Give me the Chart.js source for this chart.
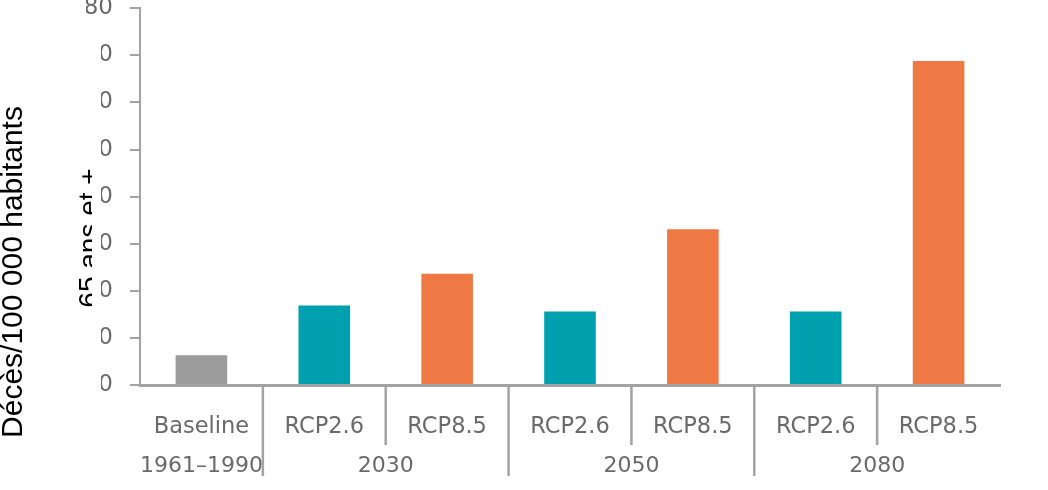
<!DOCTYPE html>
<html>
<head>
<meta charset="utf-8">
<script src="https://cdn.jsdelivr.net/npm/chart.js@4.4.1/dist/chart.umd.min.js"></script>
<style>
html,body{margin:0;padding:0;background:#fff;}
#wrap{width:1048px;height:490px;position:relative;}
</style>
</head>
<body>
<div id="wrap"><canvas id="c"></canvas></div>
<script>
// ---- data ----
const categories = ["Baseline", "RCP2.6", "RCP8.5", "RCP2.6", "RCP8.5", "RCP2.6", "RCP8.5"];
const periods = ["1961–1990", "2030", "2050", "2080"];
const periodSpans = [1, 2, 2, 2];
const deaths = [6.3, 16.9, 23.6, 15.6, 33.1, 15.6, 68.8];
const yTickValues = [0, 10, 20, 30, 40, 50, 60, 70, 80];
const yTitle = "Décès/100 000 habitants";
const ySubTitle = "65 ans et +";

// ---- styles ----
const scenarioColors = { "Baseline": "#9b9b9b", "RCP2.6": "#00a0ae", "RCP8.5": "#ee7944" };
const axisGrey = "#a3a3a3";
const labelGrey = "#6a6a6a";
const labelFont = "'DejaVu Sans', sans-serif";

const overlay = {
  id: "overlay",
  afterDraw(chart) {
    const ctx = chart.ctx;
    const xs = chart.scales.x;
    const bottom = chart.chartArea.bottom;
    const boundary = i => (xs.getPixelForValue(i) + xs.getPixelForValue(i + 1)) / 2;
    ctx.save();
    ctx.strokeStyle = axisGrey;
    ctx.lineWidth = 2.5;
    const vline = (x, len) => { ctx.beginPath(); ctx.moveTo(x, bottom); ctx.lineTo(x, bottom + len); ctx.stroke(); };
    ctx.fillStyle = labelGrey;
    ctx.font = "22px " + labelFont;
    ctx.textAlign = "center";
    ctx.textBaseline = "middle";
    let idx = 0;
    periodSpans.forEach((span, g) => {
      for (let k = 1; k < span; k++) vline(boundary(idx + k - 1), 60);
      const cx = (xs.getPixelForValue(idx) + xs.getPixelForValue(idx + span - 1)) / 2;
      ctx.fillText(periods[g], cx, bottom + 81);
      idx += span;
      if (idx < categories.length) vline(boundary(idx - 1), 91);
    });
    ctx.restore();

    // white cover over the y tick labels, with the clipped sub-title
    ctx.save();
    ctx.fillStyle = "#ffffff";
    ctx.fillRect(30, 24, 71, 374);
    ctx.beginPath();
    ctx.rect(30, 24, 62, 374);
    ctx.clip();
    ctx.fillStyle = "#000000";
    ctx.font = "28px 'Liberation Sans', Arial, sans-serif";
    ctx.textAlign = "center";
    ctx.textBaseline = "alphabetic";
    ctx.translate(98, 238);
    ctx.rotate(-Math.PI / 2);
    ctx.fillText(ySubTitle, 0, 0);
    ctx.restore();

    // main y title
    ctx.save();
    ctx.fillStyle = "#000000";
    ctx.font = "30px 'Liberation Sans', Arial, sans-serif";
    ctx.textAlign = "center";
    ctx.textBaseline = "alphabetic";
    ctx.translate(22, 272);
    ctx.rotate(-Math.PI / 2);
    ctx.fillText(yTitle, 0, 0);
    ctx.restore();
  }
};

new Chart(document.getElementById("c"), {
  type: "bar",
  data: {
    labels: categories,
    datasets: [{
      data: deaths,
      backgroundColor: categories.map(c => scenarioColors[c]),
      borderWidth: 0,
      barPercentage: 0.42,
      categoryPercentage: 1.0
    }]
  },
  options: {
    responsive: true,
    maintainAspectRatio: false,
    animation: false,
    devicePixelRatio: 1,
    layout: { padding: { left: 86, right: 48, top: 8.3, bottom: 0 } },
    plugins: { legend: { display: false }, tooltip: { enabled: false } },
    scales: {
      x: {
        offset: true,
        afterFit: s => { s.height = 105; },
        grid: { display: true, drawOnChartArea: false, drawTicks: false, color: "transparent" },
        border: { display: true, color: axisGrey, width: 3 },
        ticks: { color: labelGrey, padding: 29, font: { family: labelFont, size: 22.5, lineHeight: 1.2 }, maxRotation: 0, autoSkip: false }
      },
      y: {
        min: 0, max: 80,
        afterBuildTicks: s => { s.ticks = yTickValues.map(v => ({ value: v })); },
        afterFit: s => { s.width = 54; s.paddingTop = 0; s.paddingBottom = 0; },
        grid: { drawOnChartArea: false, drawTicks: true, tickLength: 10, color: axisGrey, lineWidth: 2 },
        border: { display: true, color: axisGrey, width: 2 },
        ticks: { color: labelGrey, padding: 17, font: { family: labelFont, size: 23 } }
      }
    }
  },
  plugins: [overlay]
});
</script>
</body>
</html>
